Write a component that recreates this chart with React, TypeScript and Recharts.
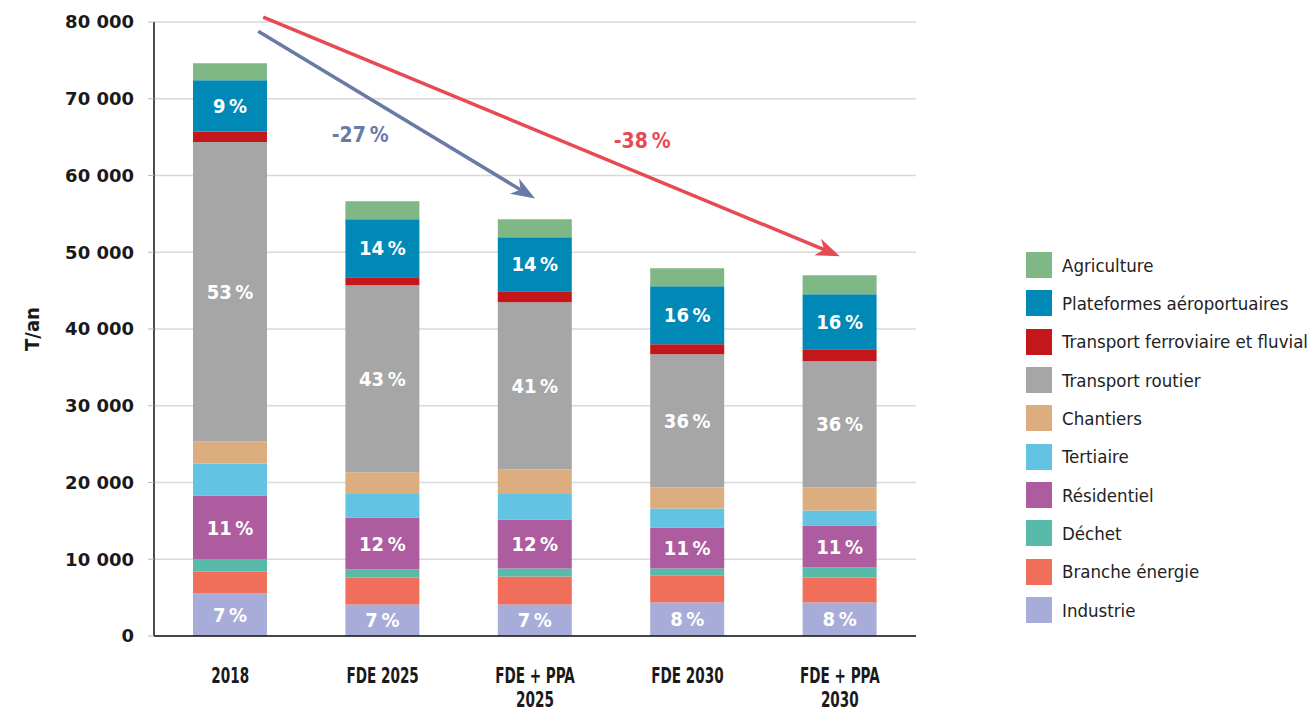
import { BarChart, Bar, XAxis, YAxis, CartesianGrid, LabelList, ReferenceLine } from 'recharts'

const categories = ['2018', 'FDE 2025', 'FDE + PPA\n2025', 'FDE 2030', 'FDE + PPA\n2030']

// T/an, bottom of the stack first
const industrie = [5540, 4110, 4110, 4370, 4370]
const brancheEnergie = [2870, 3520, 3650, 3480, 3260]
const dechet = [1560, 1040, 1040, 950, 1300]
const residentiel = [8350, 6780, 6390, 5350, 5480]
const tertiaire = [4170, 3040, 3300, 2470, 1950]
const chantiers = [2870, 2830, 3220, 2740, 3000]
const transportRoutier = [39020, 24380, 21770, 17340, 16430]
const ferroviaire = [1310, 1040, 1440, 1300, 1560]
const plateformes = [6730, 7560, 7040, 7570, 7170]
const agriculture = [2220, 2350, 2340, 2350, 2480]

const industrieLabels = ['7\u202F%', '7\u202F%', '7\u202F%', '8\u202F%', '8\u202F%']
const residentielLabels = ['11\u202F%', '12\u202F%', '12\u202F%', '11\u202F%', '11\u202F%']
const routierLabels = ['53\u202F%', '43\u202F%', '41\u202F%', '36\u202F%', '36\u202F%']
const plateformesLabels = ['9\u202F%', '14\u202F%', '14\u202F%', '16\u202F%', '16\u202F%']

const yTicks = [0, 10000, 20000, 30000, 40000, 50000, 60000, 70000, 80000]

const CONDENSED = "'DejaVu Sans Condensed', 'Liberation Sans Narrow', Roboto, sans-serif"
const BLUE_ARROW = '#6a7aa6'
const RED_ARROW = '#e64a52'

const series = [
  { key: 'industrie', name: 'Industrie', color: '#a8acd8', values: industrie, labels: industrieLabels },
  { key: 'branche', name: 'Branche énergie', color: '#ef6f5a', values: brancheEnergie },
  { key: 'dechet', name: 'Déchet', color: '#58baa9', values: dechet },
  { key: 'residentiel', name: 'Résidentiel', color: '#ad5c9f', values: residentiel, labels: residentielLabels },
  { key: 'tertiaire', name: 'Tertiaire', color: '#62c4e2', values: tertiaire },
  { key: 'chantiers', name: 'Chantiers', color: '#dcad7e', values: chantiers },
  { key: 'routier', name: 'Transport routier', color: '#a6a6a6', values: transportRoutier, labels: routierLabels },
  { key: 'ferroviaire', name: 'Transport ferroviaire et fluvial', color: '#c4171b', values: ferroviaire },
  { key: 'plateformes', name: 'Plateformes aéroportuaires', color: '#0089b6', values: plateformes, labels: plateformesLabels },
  { key: 'agriculture', name: 'Agriculture', color: '#7fb785', values: agriculture },
]

const data = categories.map((name, i) => {
  const row: Record<string, string | number> = { name }
  series.forEach((s) => {
    row[s.key] = s.values[i]
    if (s.labels) row[s.key + 'Label'] = s.labels[i]
  })
  return row
})

const formatTick = (v: number) => (v === 0 ? '0' : `${Math.floor(v / 1000)} 000`)

function CategoryTick(props: any) {
  const { x, y, payload } = props
  const lines = String(payload.value).split('\n')
  return (
    <g>
      {lines.map((line, i) => (
        <text
          key={i}
          transform={`translate(${x}, ${y + 47 + i * 24}) scale(0.72, 1)`}
          textAnchor="middle"
          fontFamily={CONDENSED}
          fontWeight={700}
          fontSize={21}
          fill="#1a1a1a"
        >
          {line}
        </text>
      ))}
    </g>
  )
}

function arrowShape(color: string, startDx: number, text: string, tdx: number, tdy: number) {
  return (props: any) => {
    const x1 = props.x1 + startDx
    const y1 = props.y1
    const { x2, y2 } = props
    const ang = Math.atan2(y2 - y1, x2 - x1)
    const len = 24
    const half = 9
    const notch = 17
    const bx = x2 - len * Math.cos(ang)
    const by = y2 - len * Math.sin(ang)
    const nx = x2 - notch * Math.cos(ang)
    const ny = y2 - notch * Math.sin(ang)
    const px = -Math.sin(ang)
    const py = Math.cos(ang)
    const head = `${x2},${y2} ${bx + half * px},${by + half * py} ${nx},${ny} ${bx - half * px},${by - half * py}`
    return (
      <g>
        <line x1={x1} y1={y1} x2={nx} y2={ny} stroke={color} strokeWidth={3.5} />
        <polygon points={head} fill={color} />
        <text
          x={x1 + tdx}
          y={y1 + tdy}
          textAnchor="middle"
          dominantBaseline="central"
          fontFamily={CONDENSED}
          fontWeight={700}
          fontSize={21}
          fill={color}
        >
          {text}
        </text>
      </g>
    )
  }
}

function SeriesLegend() {
  return (
    <div style={{ position: 'absolute', left: 1026, top: 246, display: 'flex', flexDirection: 'column' }}>
      {[...series].reverse().map((s) => (
        <div key={s.key} style={{ display: 'flex', alignItems: 'center', height: 38.33 }}>
          <span style={{ width: 26, height: 26, background: s.color, display: 'inline-block', marginRight: 10 }} />
          <span style={{ fontFamily: CONDENSED, fontSize: 18.5, color: '#222', whiteSpace: 'nowrap' }}>{s.name}</span>
        </div>
      ))}
    </div>
  )
}

export default function App() {
  return (
    <div style={{ width: 1313, height: 711, background: '#fff', position: 'relative', overflow: 'hidden' }}>
      <style>{'body{margin:0}'}</style>
      <BarChart
        width={1313}
        height={711}
        data={data}
        margin={{ top: 22, right: 397, bottom: 45, left: 0 }}
        barSize={74}
      >
        <CartesianGrid vertical={false} stroke="#d9d9d9" strokeWidth={1.5} />
        <XAxis
          dataKey="name"
          height={30}
          tick={<CategoryTick />}
          tickLine={false}
          axisLine={{ stroke: '#111', strokeWidth: 1.5 }}
          interval={0}
          tickSize={0}
          tickMargin={0}
        />
        <YAxis
          width={154}
          domain={[0, 80000]}
          ticks={yTicks}
          tickFormatter={formatTick}
          tickSize={6}
          tickMargin={14}
          tickLine={{ stroke: '#bbb' }}
          axisLine={{ stroke: '#111', strokeWidth: 1.5 }}
          tick={{ fontFamily: "'DejaVu Sans', sans-serif", fontWeight: 700, fontSize: 18, fill: '#1a1a1a' }}
          label={{
            value: 'T/an',
            angle: -90,
            position: 'insideLeft',
            offset: 32,
            style: { fontFamily: CONDENSED, fontWeight: 700, fontSize: 20, fill: '#1a1a1a', textAnchor: 'middle' },
          }}
        />
        {series.map((s) => (
          <Bar key={s.key} dataKey={s.key} name={s.name} stackId="a" fill={s.color} isAnimationActive={false}>
            {s.labels && (
              <LabelList
                dataKey={s.key + 'Label'}
                position="center"
                fill="#fff"
                fontFamily={CONDENSED}
                fontWeight={700}
                fontSize={20}
              />
            )}
          </Bar>
        ))}
        <ReferenceLine
          segment={[
            { x: categories[0], y: 78810 },
            { x: categories[2], y: 57000 },
          ]}
          ifOverflow="visible"
          shape={arrowShape(BLUE_ARROW, 28, '-27\u202F%', 102, 104)}
        />
        <ReferenceLine
          segment={[
            { x: categories[0], y: 80640 },
            { x: categories[4], y: 49480 },
          ]}
          ifOverflow="visible"
          shape={arrowShape(RED_ARROW, 33, '-38\u202F%', 379, 124)}
        />
      </BarChart>
      <SeriesLegend />
    </div>
  )
}
